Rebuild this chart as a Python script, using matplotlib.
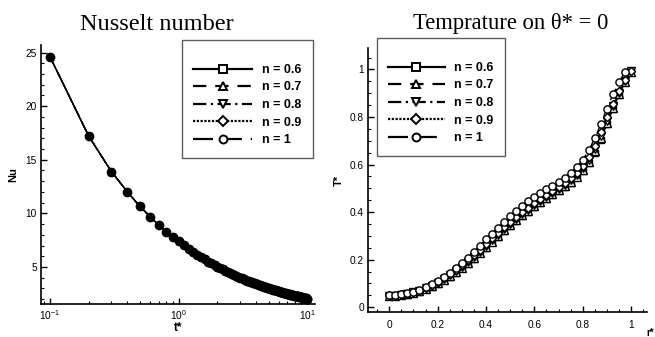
import matplotlib
matplotlib.use("Agg")
import matplotlib.pyplot as plt
from matplotlib.ticker import MultipleLocator, LogLocator, NullFormatter, FixedLocator
from matplotlib.lines import Line2D

plt.rcParams['font.family'] = ['Liberation Sans', 'DejaVu Sans']
plt.rcParams['mathtext.fontset'] = 'custom'
plt.rcParams['mathtext.rm'] = 'Liberation Sans'
plt.rcParams['mathtext.it'] = 'Liberation Sans:italic'

# ---------------- data ----------------
series_labels = ["n = 0.6", "n = 0.7", "n = 0.8", "n = 0.9", "n = 1"]

t_star = [0.1, 0.2, 0.3, 0.4, 0.5, 0.6, 0.7, 0.8, 0.9,
          1.0, 1.1, 1.2, 1.3, 1.4, 1.5, 1.6, 1.7, 1.8, 1.9,
          2.0, 2.1, 2.2, 2.3, 2.4, 2.5, 2.6, 2.7, 2.8, 2.9,
          3.0, 3.1, 3.2, 3.3, 3.4, 3.5, 3.6, 3.7, 3.8, 3.9,
          4.0, 4.1, 4.2, 4.3, 4.4, 4.5, 4.6, 4.7, 4.8, 4.9,
          5.0, 5.1, 5.2, 5.3, 5.4, 5.5, 5.6, 5.7, 5.8, 5.9,
          6.0, 6.1, 6.2, 6.3, 6.4, 6.5, 6.6, 6.7, 6.8, 6.9,
          7.0, 7.1, 7.2, 7.3, 7.4, 7.5, 7.6, 7.7, 7.8, 7.9,
          8.0, 8.1, 8.2, 8.3, 8.4, 8.5, 8.6, 8.7, 8.8, 8.9,
          9.0, 9.1, 9.2, 9.3, 9.4, 9.5, 9.6, 9.7, 9.8, 9.9, 10.0]

nu_values = [24.6, 17.2, 13.9, 12.0, 10.65, 9.7, 8.9, 8.3, 7.8,
             7.40, 7.02, 6.69, 6.39, 6.14, 5.90, 5.70, 5.51, 5.33, 5.18,
             5.03, 4.90, 4.77, 4.65, 4.54, 4.44, 4.35, 4.26, 4.17, 4.09,
             4.01, 3.94, 3.87, 3.81, 3.74, 3.68, 3.63, 3.57, 3.52, 3.47,
             3.42, 3.37, 3.33, 3.28, 3.24, 3.20, 3.16, 3.13, 3.09, 3.05,
             3.02, 2.99, 2.95, 2.92, 2.89, 2.86, 2.83, 2.81, 2.78, 2.75,
             2.73, 2.70, 2.68, 2.65, 2.63, 2.61, 2.59, 2.56, 2.54, 2.52,
             2.50, 2.48, 2.46, 2.45, 2.43, 2.41, 2.39, 2.37, 2.36, 2.34,
             2.32, 2.31, 2.29, 2.28, 2.26, 2.25, 2.23, 2.22, 2.20, 2.19,
             2.18, 2.16, 2.15, 2.14, 2.12, 2.11, 2.10, 2.09, 2.08, 2.06, 2.05]

r_star = [0.0, 0.025, 0.05, 0.075, 0.1, 0.125, 0.15, 0.175, 0.2, 0.225,
          0.25, 0.275, 0.3, 0.325, 0.35, 0.375, 0.4, 0.425, 0.45, 0.475,
          0.5, 0.525, 0.55, 0.575, 0.6, 0.625, 0.65, 0.675, 0.7, 0.725,
          0.75, 0.775, 0.8, 0.825, 0.85, 0.875, 0.9, 0.925, 0.95, 0.975, 1.0]

T_n06 = [0.048, 0.046, 0.052, 0.053, 0.060, 0.065, 0.077, 0.087, 0.099, 0.113,
         0.128, 0.145, 0.163, 0.183, 0.204, 0.226, 0.249, 0.273, 0.297, 0.320,
         0.342, 0.363, 0.383, 0.402, 0.421, 0.439, 0.456, 0.472, 0.488, 0.505,
         0.524, 0.546, 0.572, 0.606, 0.650, 0.705, 0.770, 0.833, 0.893, 0.946, 0.990]
T_n07 = [0.049, 0.047, 0.053, 0.054, 0.061, 0.067, 0.078, 0.089, 0.101, 0.115,
         0.131, 0.148, 0.166, 0.186, 0.207, 0.229, 0.252, 0.276, 0.300, 0.323,
         0.345, 0.366, 0.386, 0.405, 0.424, 0.442, 0.459, 0.475, 0.491, 0.508,
         0.527, 0.549, 0.576, 0.611, 0.656, 0.712, 0.776, 0.838, 0.897, 0.948, 0.991]
T_n08 = [0.049, 0.048, 0.053, 0.055, 0.062, 0.068, 0.080, 0.091, 0.104, 0.118,
         0.134, 0.152, 0.170, 0.190, 0.212, 0.234, 0.257, 0.281, 0.305, 0.328,
         0.350, 0.371, 0.391, 0.410, 0.429, 0.447, 0.464, 0.480, 0.496, 0.513,
         0.533, 0.556, 0.584, 0.620, 0.666, 0.722, 0.785, 0.845, 0.902, 0.951, 0.992]
T_n09 = [0.050, 0.049, 0.054, 0.056, 0.064, 0.070, 0.082, 0.094, 0.107, 0.122,
         0.139, 0.157, 0.176, 0.197, 0.219, 0.242, 0.266, 0.290, 0.314, 0.337,
         0.359, 0.380, 0.400, 0.419, 0.438, 0.456, 0.473, 0.489, 0.505, 0.522,
         0.542, 0.566, 0.595, 0.633, 0.680, 0.737, 0.798, 0.856, 0.910, 0.955, 0.992]
T_n10 = [0.050, 0.050, 0.055, 0.058, 0.066, 0.072, 0.085, 0.097, 0.112, 0.128,
         0.145, 0.165, 0.185, 0.208, 0.232, 0.258, 0.285, 0.310, 0.335, 0.360,
         0.383, 0.405, 0.425, 0.445, 0.465, 0.482, 0.497, 0.510, 0.525, 0.545,
         0.565, 0.590, 0.620, 0.660, 0.710, 0.770, 0.835, 0.895, 0.945, 0.990]

T_series = [T_n06, T_n07, T_n08, T_n09, T_n10]

# ---------------- styles ----------------
markers = ['s', '^', 'v', 'D', 'o']
msizes = [4.6, 5.2, 5.2, 4.4, 5.2]
msizes_left = [3.6, 4.0, 4.0, 3.8, 6.0]
lstyles = ['-', (0, (6, 4)), (0, (6, 2, 1, 2)), (0, (1, 0.7)), (0, (9, 4))]

fig = plt.figure(figsize=(6.55, 3.37), dpi=100)
ax1 = fig.add_axes([41/655, 1-304/337, 274/655, 259/337])
ax2 = fig.add_axes([368/655, 1-312/337, 279/655, 264/337])

for i in range(5):
    ax1.plot(t_star, nu_values, color='black', linestyle=lstyles[i], lw=1.0,
             marker=markers[i], ms=msizes_left[i], mfc='black', mec='black', mew=1.0)

for i in range(5):
    T = T_series[i]
    ax2.plot(r_star[:len(T)], T, color='black', linestyle=lstyles[i], lw=1.0,
             marker=markers[i], ms=msizes[i], mfc='white', mec='black', mew=1.0)

# axes formatting
for ax in (ax1, ax2):
    ax.spines['top'].set_visible(False)
    ax.spines['right'].set_visible(False)
    ax.spines['left'].set_linewidth(1.2)
    ax.spines['bottom'].set_linewidth(1.2)
    ax.tick_params(which='major', direction='in', length=4, width=1.0,
                   labelsize=7.3, pad=3, color='black')
    ax.tick_params(which='minor', direction='in', length=2.2, width=0.8)
    ax.set_facecolor('none')

ax1.set_xscale('log')
ax1.set_xlim(10**-1.07, 10**1.06)
ax1.set_ylim(1.55, 25.7)
ax1.yaxis.set_major_locator(FixedLocator([5, 10, 15, 20, 25]))
ax1.yaxis.set_minor_locator(MultipleLocator(1))
ax1.xaxis.set_major_locator(LogLocator(base=10, numticks=10))
ax1.xaxis.set_minor_locator(LogLocator(base=10, subs=range(2, 10), numticks=20))
ax1.xaxis.set_minor_formatter(NullFormatter())
ax1.set_xlabel('t*', fontsize=8.5, fontweight='bold', labelpad=0)
ax1.set_ylabel('Nu', fontsize=8, fontweight='bold', labelpad=5)

ax2.set_xlim(-0.088, 1.066)
ax2.set_ylim(-0.02, 1.09)
ax2.xaxis.set_major_locator(FixedLocator([0, 0.2, 0.4, 0.6, 0.8, 1]))
ax2.xaxis.set_major_formatter(plt.FuncFormatter(lambda v, p: '%g' % v))
ax2.yaxis.set_major_locator(FixedLocator([0, 0.2, 0.4, 0.6, 0.8, 1]))
ax2.yaxis.set_major_formatter(plt.FuncFormatter(lambda v, p: '%g' % v))
ax2.xaxis.set_minor_locator(MultipleLocator(0.05))
ax2.yaxis.set_minor_locator(MultipleLocator(0.05))
ax2.tick_params(axis='x', which='major', pad=6)
ax2.set_ylabel('T*', fontsize=8, fontweight='bold', labelpad=4)
fig.text(650/655, 1-333/337, 'r*', fontsize=7, fontweight='bold', ha='center', va='center')

# titles
fig.text(157/655, 1-24/337, 'Nusselt number', fontsize=17.5,
         family='Liberation Serif', ha='center', va='center')
fig.text(511/655, 1-24/337, 'Temprature on θ* = 0', fontsize=16.3,
         family='Liberation Serif', ha='center', va='center')

# legends
def make_handles():
    hs = []
    for i in range(5):
        hs.append(Line2D([], [], color='black', linestyle=lstyles[i], lw=1.6,
                         marker=markers[i], ms=msizes[i] + 0.5, mfc='white',
                         mec='black', mew=1.4))
    return hs

for ax, anchor, hl in ((ax1, (182/655, 1-40/337), 4.7), (ax2, (377/655, 1-38/337), 4.5)):
    leg = ax.legend(make_handles(), series_labels, loc='upper left',
                    bbox_to_anchor=anchor, bbox_transform=fig.transFigure,
                    borderaxespad=0, fancybox=False, frameon=True,
                    handlelength=hl, handletextpad=0.8, labelspacing=0.45,
                    borderpad=0.9, prop={'weight': 'bold', 'size': 9},
                    title=' ', title_fontsize=5)
    leg.get_frame().set_edgecolor('#333333')
    leg.get_frame().set_linewidth(1.0)

fig.savefig('out.png', dpi=100)
